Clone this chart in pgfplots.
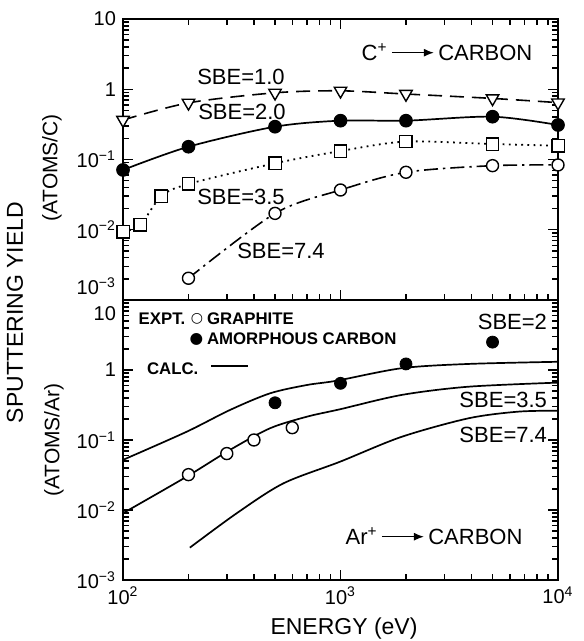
\documentclass[border=0pt]{standalone}
\usepackage{pgfplots}
\pgfplotsset{compat=1.18}
\usepackage{fontspec}
\setmainfont{Liberation Sans}
\newfontfamily\symfont{DejaVu Sans}
\usetikzlibrary{arrows.meta}
\newcommand{\arr}{\tikz[baseline=-3.8pt]\draw[line width=0.7pt,-{Latex[length=5pt,width=4pt]}] (0,0)--(21pt,0);}
\newcommand{\lab}{\fontsize{11}{13}\selectfont}
\newcommand{\leg}{\fontsize{8.4}{10}\selectfont\bfseries}
\newcommand{\up}[2]{\raisebox{#1}[\height][\depth]{#2}}
\begin{document}
\begin{tikzpicture}
\useasboundingbox (-61.5pt,-30.5pt) rectangle (230pt,290pt);

% ---------------- bottom panel: Ar+ -> carbon ----------------
\begin{axis}[at={(0pt,0pt)}, anchor=south west,
    scale only axis, width=217.5pt, height=140pt,
    xmode=log, ymode=log, xmin=100, xmax=10000, ymin=0.001, ymax=10,
    axis line style={line width=1pt},
    tick style={black, line width=0.75pt},
    major tick length=5pt, minor tick length=2.8pt,
    tick align=inside,
    xtick={100,1000,10000},
    minor xtick={200,300,400,500,600,700,800,900,2000,3000,4000,5000,6000,7000,8000,9000},
    ytick={0.001,0.01,0.1,1,10},
    minor ytick={0.002,0.003,0.004,0.005,0.006,0.007,0.008,0.009,
                 0.02,0.03,0.04,0.05,0.06,0.07,0.08,0.09,
                 0.2,0.3,0.4,0.5,0.6,0.7,0.8,0.9,2,3,4,5,6,7,8,9},
    tick label style={font=\fontsize{10}{12}\selectfont},
    clip=false,
    xtick pos=bottom,
    yticklabels={10\textsuperscript{−3},10\textsuperscript{−2},10\textsuperscript{−1},1,\up{-7pt}{10}},
    xticklabels={10\textsuperscript{2},10\textsuperscript{3},10\textsuperscript{4}},
]
% calculated, SBE = 2
\addplot[black, line width=0.85pt, smooth, tension=0.5] coordinates {
 (100,0.052) (196,0.131) (310,0.268) (474,0.464) (700,0.61) (961,0.703)
 (1910,1.06) (3873,1.22) (10000,1.31)};
% calculated, SBE = 3.5
\addplot[black, line width=0.85pt, smooth, tension=0.5] coordinates {
 (100,0.009) (196,0.0299) (310,0.072) (474,0.147) (700,0.215) (996,0.275)
 (1910,0.44) (3873,0.577) (10000,0.66)};
% calculated, SBE = 7.4
\addplot[black, line width=0.85pt, smooth, tension=0.5] coordinates {
 (203,0.0029) (333,0.00897) (546,0.024) (996,0.049) (1910,0.111)
 (3873,0.204) (6560,0.254) (10000,0.262)};
% experiment, graphite
\addplot[only marks, mark=*, mark size=3pt, mark options={fill=white, draw=black, line width=0.7pt}] coordinates {
 (200,0.032) (300,0.064) (400,0.10) (600,0.15)};
% experiment, amorphous carbon
\addplot[only marks, mark=*, mark size=3pt, black] coordinates {
 (500,0.34) (1000,0.645) (2000,1.22) (5000,2.5)};
\end{axis}

% ---------------- top panel: C+ -> carbon ----------------
\begin{axis}[at={(0pt,140pt)}, anchor=south west,
    scale only axis, width=217.5pt, height=140.5pt,
    xmode=log, ymode=log, xmin=100, xmax=10000, ymin=0.001, ymax=10,
    axis line style={line width=1pt},
    tick style={black, line width=0.75pt},
    major tick length=5pt, minor tick length=2.8pt,
    tick align=inside,
    xtick={100,1000,10000},
    minor xtick={200,300,400,500,600,700,800,900,2000,3000,4000,5000,6000,7000,8000,9000},
    ytick={0.001,0.01,0.1,1,10},
    minor ytick={0.002,0.003,0.004,0.005,0.006,0.007,0.008,0.009,
                 0.02,0.03,0.04,0.05,0.06,0.07,0.08,0.09,
                 0.2,0.3,0.4,0.5,0.6,0.7,0.8,0.9,2,3,4,5,6,7,8,9},
    tick label style={font=\fontsize{10}{12}\selectfont},
    clip=false,
    yticklabels={\up{7pt}{10\textsuperscript{−3}},10\textsuperscript{−2},10\textsuperscript{−1},1,10},
    xticklabels={,,},
]
\addplot[black, line width=0.8pt, dash pattern=on 7pt off 4pt, smooth, tension=0.5,
  mark=triangle*, mark size=3.6pt, mark options={solid, fill=white, draw=black, rotate=180, line width=0.7pt}] coordinates {
 (100,0.365) (200,0.64) (500,0.89) (1000,0.95) (2000,0.855) (5000,0.74) (10000,0.645)};
\addplot[black, line width=0.85pt, smooth, tension=0.5, mark=*, mark size=3pt] coordinates {
 (100,0.071) (200,0.152) (500,0.293) (1000,0.357) (2000,0.357) (5000,0.407) (10000,0.31)};
\addplot[black, line width=0.9pt, dash pattern=on 0.9pt off 2.2pt, smooth, tension=0.5,
  mark=square*, mark size=3.1pt, mark options={solid, fill=white, draw=black, line width=0.7pt}] coordinates {
 (100,0.0094) (120,0.0117) (150,0.030) (200,0.0448) (500,0.0883) (1000,0.132) (2000,0.18) (5000,0.166) (10000,0.157)};
\addplot[black, line width=0.8pt, dash pattern=on 7pt off 2.5pt on 1.2pt off 2.5pt, smooth, tension=0.5,
  mark=*, mark size=3pt, mark options={solid, fill=white, draw=black, line width=0.7pt}] coordinates {
 (200,0.00204) (500,0.0171) (1000,0.0368) (2000,0.0658) (5000,0.0817) (10000,0.0836)};
\end{axis}

% ---------------- annotations ----------------
\node[font=\lab] at (59pt,251.5pt) {SBE=1.0};
\node[font=\lab] at (59.5pt,234pt) {SBE=2.0};
\node[font=\lab] at (59pt,191.5pt) {SBE=3.5};
\node[font=\lab] at (79pt,164.5pt) {SBE=7.4};
\node[font=\lab] at (162pt,264pt) {C\textsuperscript{+}\,\arr\,CARBON};

\node[font=\leg, anchor=west, inner sep=0pt] at (7.65pt,130.8pt) {EXPT.};
\node[inner sep=0pt] at (37pt,130.8pt) {\symfont\fontsize{7}{8}\selectfont ○};
\node[font=\leg, anchor=west, inner sep=0pt] at (41.8pt,130.8pt) {GRAPHITE};
\node[inner sep=0pt] at (36.75pt,120.4pt) {\symfont\fontsize{7.8}{9}\selectfont ●};
\node[font=\leg, anchor=west, inner sep=0pt] at (41.8pt,120.4pt) {AMORPHOUS CARBON};
\node[font=\leg, anchor=west, inner sep=0pt] at (11.8pt,105.8pt) {CALC.};
\draw[line width=0.8pt] (44pt,107pt) -- (62.7pt,107pt);

\node[font=\lab, anchor=east] at (215.5pt,129pt) {SBE=2};
\node[font=\lab, anchor=east] at (215.5pt,90pt) {SBE=3.5};
\node[font=\lab, anchor=east] at (215.5pt,72.5pt) {SBE=7.4};
\node[font=\lab] at (155.5pt,22pt) {Ar\textsuperscript{+}\,\arr\,CARBON};

\node[font=\fontsize{11.5}{13}\selectfont, rotate=90] at (-54pt,133.75pt) {SPUTTERING YIELD};
\node[font=\fontsize{10.5}{12}\selectfont, rotate=90] at (-35.5pt,206pt) {(ATOMS/C)};
\node[font=\fontsize{10.5}{12}\selectfont, rotate=90] at (-34.5pt,70pt) {(ATOMS/Ar)};
\node[font=\fontsize{11.5}{13}\selectfont] at (110.5pt,-24.5pt) {ENERGY (eV)};
\end{tikzpicture}
\end{document}
